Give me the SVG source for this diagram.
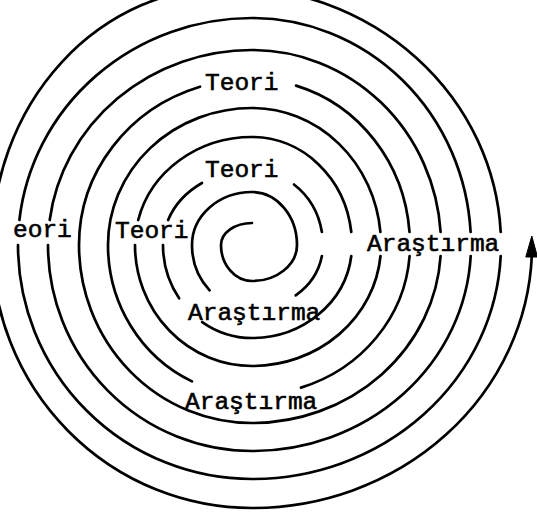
<svg xmlns="http://www.w3.org/2000/svg" width="537" height="516" viewBox="0 0 537 516">
<style>
.sp{fill:none;stroke:#000;stroke-width:2.7;stroke-linecap:round}
.lb{font-family:"Liberation Mono","DejaVu Sans Mono",monospace;font-size:24.5px;fill:#000;stroke:#000;stroke-width:0.6}
</style>
<rect width="537" height="516" fill="#fff"/>
<g id="connectors">
<path class="sp" d="M252,223 A31,22 0 0 0 221,245 A31,36 0 0 0 252,281 A45,36 0 0 0 297,245 A45,53 0 0 0 252,192 A60,53 0 0 0 192,245 A60,64 0 0 0 209.6,290.3"/>
<path class="sp" d="M295.7,295.4 A71,64 0 0 0 321.9,256"/>
<path class="sp" d="M321.9,232 A71,75 0 0 0 294,184.5"/>
<path class="sp" d="M202,183 A89,75 0 0 0 168.1,220"/>
<path class="sp" d="M163,245 A89,93 0 0 0 179.1,298.3"/>
<path class="sp" d="M202.2,322.1 A89,93 0 0 0 252,338 A100,93 0 0 0 351.3,256"/>
<path class="sp" d="M351.3,232 A100,108 0 0 0 252,137 A117,108 0 0 0 138.2,220"/>
<path class="sp" d="M135,245 A117,121 0 0 0 252,366 A129,121 0 0 0 380.5,256"/>
<path class="sp" d="M380.4,232 A129,137 0 0 0 252,108 A144,137 0 0 0 108,245 A144,150 0 0 0 192,381.4"/>
<path class="sp" d="M301,387.6 A158,150 0 0 0 409.6,256"/>
<path class="sp" d="M409.5,232 A158,166 0 0 0 296,85.6"/>
<path class="sp" d="M200,86.7 A173,166 0 0 0 79,245 A173,178 0 0 0 252,423 A189,178 0 0 0 440.6,256"/>
<path class="sp" d="M440.6,232 A189,195 0 0 0 252,50 A204,195 0 0 0 49.7,220"/>
<path class="sp" d="M48,245 A204,206 0 0 0 252,451 A219,206 0 0 0 470.7,256"/>
<path class="sp" d="M470.6,232 A219,227 0 0 0 252,18 A234,227 0 0 0 19.4,220"/>
<path class="sp" d="M18,245 A234,234 0 0 0 252,479 A249,234 0 0 0 500.7,256"/>
<path class="sp" d="M500.7,232 A272,258 0 0 0 229,-13 A237,258 0 0 0 -8,245 A260,263 0 0 0 252,508 A280,263 0 0 0 531.8,256"/>
<polygon points="531.8,236 525.8,257 537.5,257" fill="#000" stroke="#000" stroke-width="1" stroke-linejoin="round"/>
</g>
<g id="teori-top-outer"><text class="lb" x="205" y="90">Teori</text></g>
<g id="teori-top-inner"><text class="lb" x="205" y="177">Teori</text></g>
<g id="teori-left-inner"><text class="lb" x="115" y="238">Teori</text></g>
<g id="teori-left-outer"><text class="lb" x="13" y="237">eori</text></g>
<g id="arastirma-right"><text class="lb" x="367" y="251">Araştırma</text></g>
<g id="arastirma-bottom-inner"><text class="lb" x="188" y="320">Araştırma</text></g>
<g id="arastirma-bottom-outer"><text class="lb" x="185" y="409">Araştırma</text></g>
</svg>
